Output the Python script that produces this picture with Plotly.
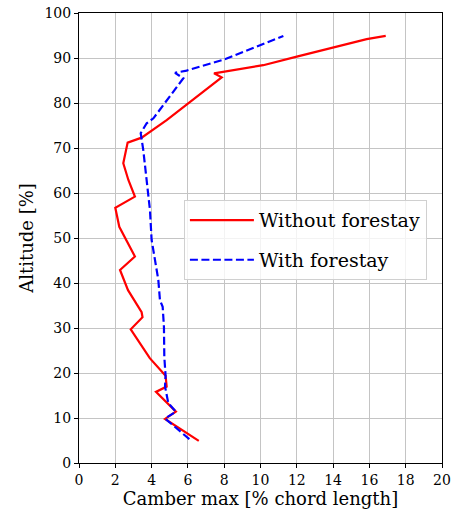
import plotly.graph_objects as go

# Without forestay
red_x = [6.6, 4.74, 5.34, 4.24, 4.83, 4.77, 3.9, 2.85, 3.5, 3.45, 2.7, 2.26, 3.08, 2.6, 2.22, 2.0, 3.08, 2.72, 2.44, 2.68, 3.45, 4.83, 6.02, 7.13, 7.86, 7.44, 10.15, 12.0, 14.2, 15.85, 16.9]
red_y = [4.9, 9.8, 11.4, 15.8, 17.0, 19.4, 23.3, 29.7, 32.4, 33.5, 38.4, 42.9, 45.9, 49.6, 52.5, 56.7, 59.2, 62.9, 66.6, 71.2, 72.3, 76.2, 79.9, 83.3, 85.7, 86.6, 88.4, 90.3, 92.5, 94.2, 94.9]

# With forestay
blue_x = [6.08, 4.74, 5.34, 4.92, 4.74, 4.77, 4.7, 4.68, 4.61, 4.46, 4.37, 4.19, 4.0, 3.91, 3.73, 3.54, 3.4, 3.73, 4.1, 5.01, 5.75, 5.29, 5.93, 7.95, 9.79, 11.26]
blue_y = [5.3, 9.9, 11.4, 13.3, 17.0, 19.4, 23.6, 30.3, 34.7, 36.2, 40.7, 45.1, 49.6, 56.2, 62.9, 69.6, 73.3, 75.5, 76.6, 81.4, 85.5, 86.7, 87.2, 89.6, 92.5, 94.9]

x_ticks = list(range(0, 21, 2))
y_ticks = list(range(0, 101, 10))

font_family = "DejaVu Serif"

fig = go.Figure()
fig.add_trace(go.Scatter(x=red_x, y=red_y, mode="lines", name="Without forestay",
                         legendgroup="a",
                         line=dict(color="red", width=2.2)))
fig.add_trace(go.Scatter(x=blue_x, y=blue_y, mode="lines", name="With forestay",
                         legendgroup="b",
                         line=dict(color="blue", width=2.2, dash="8px,3.5px")))

axis_common = dict(showgrid=True, gridcolor="#c4c4c4", gridwidth=1,
                   showline=True, linecolor="black", linewidth=1, mirror=True,
                   ticks="outside", ticklen=4, tickcolor="black", zeroline=False,
                   automargin=False,
                   tickfont=dict(family=font_family, size=14, color="black"))

fig.update_layout(
    width=454, height=517,
    margin=dict(l=79, r=12, t=13, b=54, autoexpand=False),
    paper_bgcolor="white", plot_bgcolor="white",
    font=dict(family=font_family, color="black"),
    xaxis=dict(range=[0, 20], tickvals=x_ticks,
               title=dict(text="Camber max [% chord length]", font=dict(size=18), standoff=4),
               **axis_common),
    yaxis=dict(range=[0, 100], tickvals=y_ticks,
               title=dict(text="Altitude [%]", font=dict(size=18), standoff=6),
               **axis_common),
    legend=dict(x=0.289, y=0.584, xanchor="left", yanchor="top",
                bgcolor="rgba(255,255,255,0.8)", bordercolor="#d0d0d0", borderwidth=1,
                font=dict(family=font_family, size=19, color="black"),
                itemwidth=64, tracegroupgap=12),
    showlegend=True,
)

fig.write_html("out.html")
